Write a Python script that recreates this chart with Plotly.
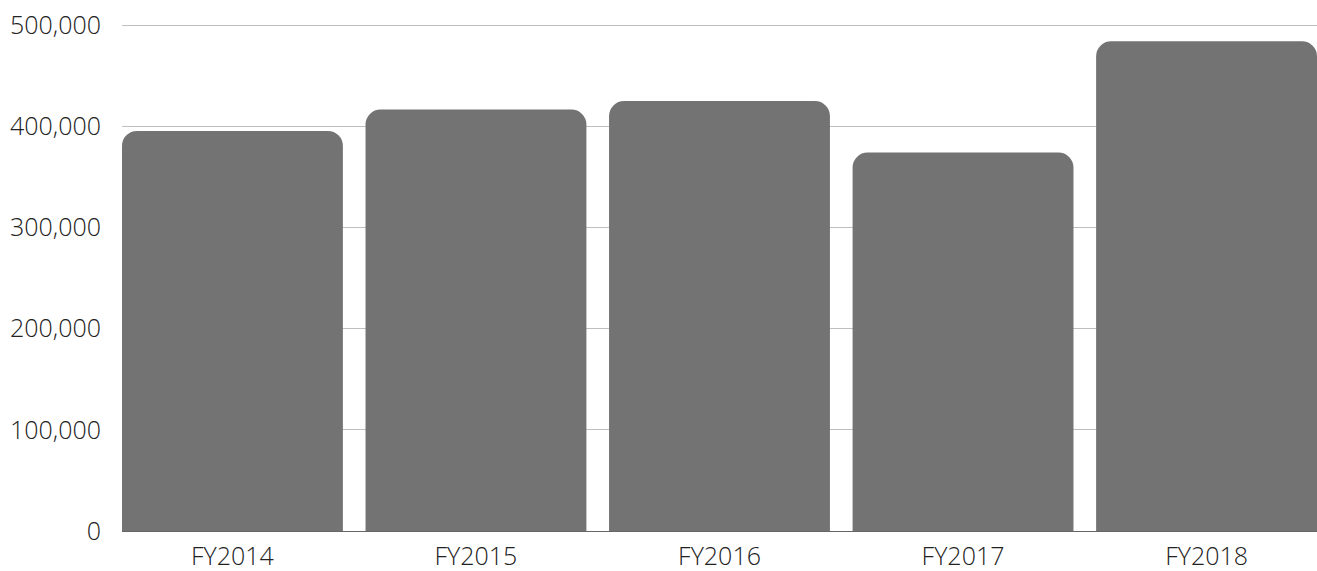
import plotly.graph_objects as go

categories = ["FY2014", "FY2015", "FY2016", "FY2017", "FY2018"]
values = [395300, 416400, 424900, 373900, 483900]
y_ticks = [0, 100000, 200000, 300000, 400000, 500000]
y_tick_labels = ["0", "100,000", "200,000", "300,000", "400,000", "500,000"]

fig = go.Figure(
    go.Bar(
        x=categories,
        y=values,
        marker=dict(color="#737373", line=dict(width=0), cornerradius=15),
        hoverinfo="x+y",
    )
)

font = dict(family="Open Sans", size=25, color="#222222", weight=300)

fig.update_layout(
    width=1317,
    height=571,
    margin=dict(l=122, r=0, t=24, b=40),
    paper_bgcolor="white",
    plot_bgcolor="white",
    bargap=0.093,
    showlegend=False,
    font=font,
)
fig.update_xaxes(
    type="category",
    range=[-0.4535, 4.4535],
    showline=True,
    linecolor="#666666",
    linewidth=1,
    showgrid=False,
    ticks="",
    tickfont=font,
    ticklabelstandoff=3,
)
fig.update_yaxes(
    range=[0, 501000],
    tickvals=y_ticks,
    ticktext=y_tick_labels,
    showgrid=True,
    gridcolor="#bfbfbf",
    gridwidth=1,
    zeroline=False,
    showline=False,
    ticks="",
    tickfont=font,
    ticklabelstandoff=20,
)

fig.write_html(
    "out.html",
    config={"displayModeBar": False},
    post_script="document.body.style.margin='0';document.body.style.overflow='hidden';",
)
